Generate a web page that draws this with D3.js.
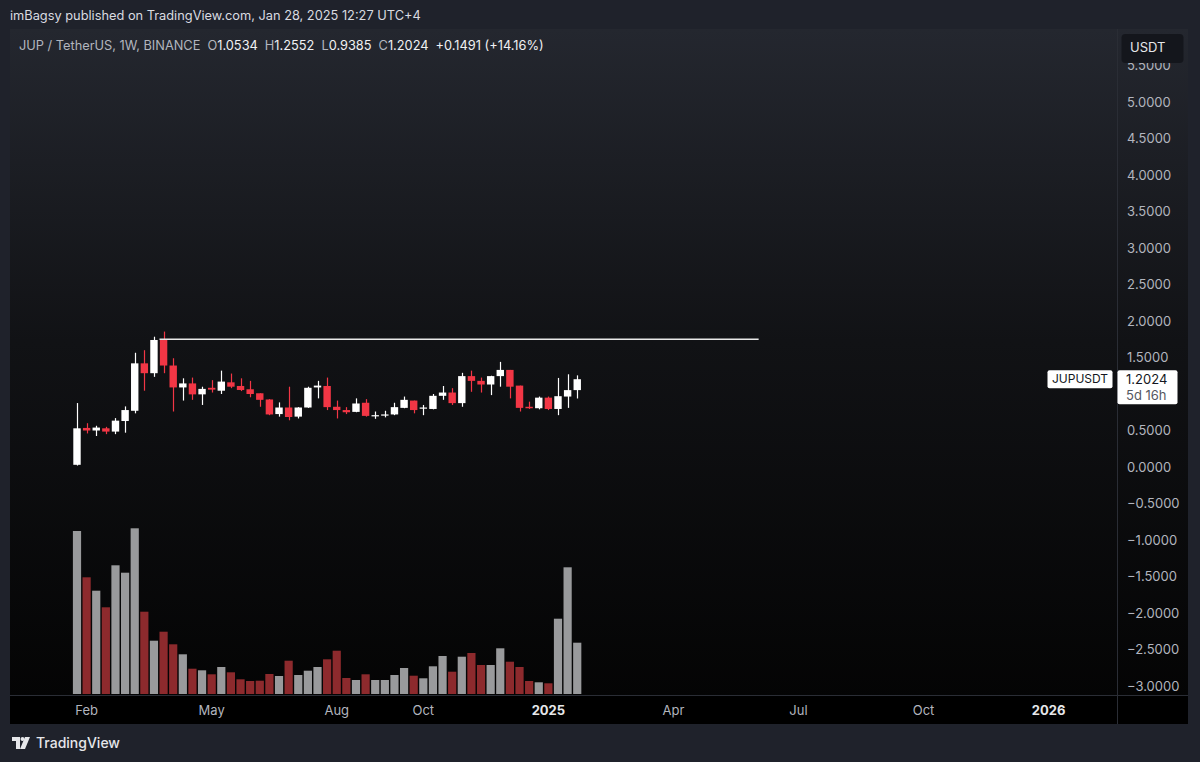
<!DOCTYPE html>
<html><head><meta charset="utf-8">
<script src="https://cdn.jsdelivr.net/npm/d3@7"></script>
<style>
html,body{margin:0;padding:0;background:#1f222b;}
svg{display:block;font-family:Inter,"Noto Sans",sans-serif;}
</style></head>
<body>
<svg id="c" width="1200" height="762"></svg>
<script>
// ---- data ----
const weeks = ["2024-01-29","2024-02-05","2024-02-12","2024-02-19","2024-02-26","2024-03-04","2024-03-11","2024-03-18","2024-03-25",
"2024-04-01","2024-04-08","2024-04-15","2024-04-22","2024-04-29","2024-05-06","2024-05-13","2024-05-20","2024-05-27",
"2024-06-03","2024-06-10","2024-06-17","2024-06-24","2024-07-01","2024-07-08","2024-07-15","2024-07-22","2024-07-29",
"2024-08-05","2024-08-12","2024-08-19","2024-08-26","2024-09-02","2024-09-09","2024-09-16","2024-09-23","2024-09-30",
"2024-10-07","2024-10-14","2024-10-21","2024-10-28","2024-11-04","2024-11-11","2024-11-18","2024-11-25",
"2024-12-02","2024-12-09","2024-12-16","2024-12-23","2024-12-30","2025-01-06","2025-01-13","2025-01-20","2025-01-27"];
const open  = [0.03,0.535,0.50,0.53,0.485,0.63,0.77,1.42,1.285,1.74,1.39,1.09,1.145,0.995,1.085,1.045,1.16,1.11,1.065,1.01,0.925,0.725,0.815,0.69,0.815,1.09,1.11,0.825,0.78,0.755,0.88,0.70,0.705,0.72,0.81,0.91,0.80,0.795,0.975,1.02,0.875,1.245,1.18,1.13,1.245,1.33,1.115,0.825,0.805,0.95,0.795,0.965,1.0534];
const high  = [0.876,0.60,0.565,0.55,0.67,0.83,1.565,1.60,1.785,1.855,1.49,1.215,1.225,1.10,1.19,1.32,1.28,1.215,1.18,1.01,0.93,0.885,1.10,0.82,1.10,1.18,1.225,0.91,0.82,0.94,0.93,0.76,0.77,0.88,0.965,0.91,0.85,1.00,1.11,1.08,1.29,1.32,1.225,1.25,1.44,1.33,1.115,0.895,0.965,0.965,1.22,1.27,1.2552];
const low   = [0.02,0.46,0.425,0.45,0.45,0.47,0.735,1.045,1.235,1.285,0.76,0.91,0.92,0.85,1.02,1.00,1.08,1.04,0.955,0.825,0.71,0.69,0.64,0.665,0.81,0.94,0.78,0.665,0.725,0.75,0.69,0.66,0.68,0.71,0.805,0.735,0.71,0.79,0.92,0.85,0.825,1.03,1.02,0.985,1.10,0.94,0.76,0.795,0.79,0.78,0.71,0.81,0.9385];
const close = [0.53,0.50,0.54,0.485,0.635,0.78,1.42,1.285,1.74,1.39,1.09,1.145,0.995,1.07,1.06,1.17,1.10,1.055,1.00,0.92,0.72,0.815,0.685,0.815,1.085,1.115,0.82,0.78,0.75,0.87,0.70,0.71,0.72,0.82,0.92,0.78,0.815,0.975,1.02,0.875,1.245,1.18,1.13,1.245,1.33,1.10,0.81,0.805,0.95,0.795,0.97,1.0533,1.2024];
const volume = [163,116.7,103.3,86.7,128.7,121.3,165.7,82.3,53.3,62.3,49.7,39.7,25.3,23.7,19.7,27,21.7,14.7,13,13.3,20,18,33.3,19,23.3,27,34.7,43.3,16,14,19.7,14,14,19,26,18.3,15.7,27.7,38,22.3,37.3,41,29,29,45.7,32.3,27,13,11.7,10.7,75.3,126.7,51.3];
const priceTicks = [-3,-2.5,-2,-1.5,-1,-0.5,0,0.5,1,1.5,2,2.5,3,3.5,4,4.5,5,5.5];
const timeTickDates  = ["2024-02-05","2024-05-06","2024-08-05","2024-10-07","2025-01-06","2025-04-07","2025-07-07","2025-10-06","2026-01-05"];
const timeTickLabels = ["Feb","May","Aug","Oct","2025","Apr","Jul","Oct","2026"];
const hLine = {from:"2024-03-29", to:"2025-06-08", price:1.75};
const lastPrice = 1.2024;

// ---- setup ----
const parse = d3.utcParse("%Y-%m-%d");
const svg = d3.select("#c");
const W=1200,H=762;
const panel={x:10,y:29,r:1188,b:724};
const axisX=1117, timeTop=695;

const defs=svg.append("defs");
const g1=defs.append("linearGradient").attr("id","bg").attr("x1",0).attr("y1",0).attr("x2",0).attr("y2",1);
g1.append("stop").attr("offset","0%").attr("stop-color","#24272f");
g1.append("stop").attr("offset","45%").attr("stop-color","#111215");
g1.append("stop").attr("offset","100%").attr("stop-color","#030303");

svg.append("rect").attr("width",W).attr("height",H).attr("fill","#1f222b");
svg.append("rect").attr("x",panel.x).attr("y",panel.y).attr("width",panel.r-panel.x).attr("height",panel.b-panel.y).attr("fill","url(#bg)");
svg.append("rect").attr("x",panel.x).attr("y",timeTop).attr("width",panel.r-panel.x).attr("height",panel.b-timeTop).attr("fill","#000");
svg.append("line").attr("x1",panel.x).attr("x2",panel.r).attr("y1",timeTop+0.5).attr("y2",timeTop+0.5).attr("stroke","#2a2d35");
svg.append("line").attr("x1",axisX+0.5).attr("x2",axisX+0.5).attr("y1",panel.y).attr("y2",panel.b).attr("stroke","#2a2d35");

// scales
const x = d3.scaleUtc().domain([parse("2024-01-29"),parse("2026-01-05")]).range([77,77+101*9.62]);
const y = d3.scaleLinear().domain([0,1]).range([467,394]);
const yv = d3.scaleLinear().domain([0,170]).range([694,524]);

const data = weeks.map((w,i)=>({d:parse(w),o:open[i],h:high[i],l:low[i],c:close[i],v:volume[i]}));
const up = d=>d.c>=d.o;

defs.append("clipPath").attr("id","clip").append("rect").attr("x",panel.x).attr("y",panel.y).attr("width",axisX-panel.x).attr("height",timeTop-panel.y);
const plot = svg.append("g").attr("clip-path","url(#clip)");

// volume
const vw=8.2;
plot.selectAll("rect.vol").data(data).join("rect").attr("class","vol")
  .attr("x",d=>x(d.d)-vw/2).attr("width",vw)
  .attr("y",d=>yv(d.v)).attr("height",d=>yv(0)-yv(d.v))
  .attr("fill",d=>up(d)?"#999a9c":"#8d2a2d");

// candles
const cw=7.4;
plot.selectAll("line.wick").data(data).join("line").attr("class","wick")
  .attr("x1",d=>Math.round(x(d.d))+0.5).attr("x2",d=>Math.round(x(d.d))+0.5)
  .attr("y1",d=>y(d.h)).attr("y2",d=>y(d.l))
  .attr("stroke",d=>up(d)?"#ffffff":"#f23645").attr("stroke-width",1.2);
plot.selectAll("rect.body").data(data).join("rect").attr("class","body")
  .attr("x",d=>x(d.d)-cw/2).attr("width",cw)
  .attr("y",d=>y(Math.max(d.o,d.c))).attr("height",d=>Math.max(1.2,Math.abs(y(d.o)-y(d.c))))
  .attr("fill",d=>up(d)?"#ffffff":"#f23645");

// horizontal drawing line
plot.append("line").attr("x1",x(parse(hLine.from))).attr("x2",x(parse(hLine.to)))
  .attr("y1",y(hLine.price)).attr("y2",y(hLine.price)).attr("stroke","#e8e8e8").attr("stroke-width",1.5);

// price axis
const fmt = v => (v<0?"\u2212":"")+Math.abs(v).toFixed(4);
const ya = svg.append("g");
ya.selectAll("text").data(priceTicks).join("text")
  .attr("x",1127).attr("y",d=>y(d)).attr("dy","0.35em")
  .attr("font-size",13).attr("fill","#b2b5be").text(fmt);

// USDT box
svg.append("rect").attr("x",1121.5).attr("y",34).attr("width",62).attr("height",29).attr("rx",4).attr("fill","#14161c");
svg.append("text").attr("x",1130).attr("y",47).attr("dy","0.35em").attr("font-size",13).attr("fill","#e6e7ea").text("USDT");

// time axis
const xa = svg.append("g");
xa.selectAll("text").data(timeTickDates).join("text")
  .attr("x",d=>x(parse(d))).attr("y",710).attr("dy","0.35em").attr("text-anchor","middle")
  .attr("font-size",13)
  .attr("font-weight",(d,i)=>/^\d{4}$/.test(timeTickLabels[i])?"700":"400")
  .attr("fill",(d,i)=>/^\d{4}$/.test(timeTickLabels[i])?"#e6e7ea":"#b2b5be")
  .text((d,i)=>timeTickLabels[i]);

// last price labels
const ly=y(lastPrice);
svg.append("rect").attr("x",1047.5).attr("y",ly-9).attr("width",65).attr("height",18).attr("rx",2).attr("fill","#ffffff");
svg.append("text").attr("x",1080).attr("y",ly).attr("dy","0.35em").attr("text-anchor","middle").attr("font-size",12).attr("fill","#131722").text("JUPUSDT");
svg.append("rect").attr("x",1117.5).attr("y",ly-9).attr("width",60).attr("height",34).attr("rx",2).attr("fill","#ffffff");
svg.append("text").attr("x",1126).attr("y",ly).attr("dy","0.35em").attr("font-size",13).attr("fill","#131722").text(lastPrice.toFixed(4));
svg.append("text").attr("x",1126).attr("y",ly+16).attr("dy","0.35em").attr("font-size",13).attr("fill","#55585f").text("5d 16h");

// header
svg.append("text").attr("x",10).attr("y",16).attr("dy","0.35em").attr("font-size",12.8).attr("fill","#d9dbe0")
  .text("imBagsy published on TradingView.com, Jan 28, 2025 12:27 UTC+4");
const last=data[data.length-1], prev=data[data.length-2];
const chg=last.c-prev.c;
const leg=svg.append("text").attr("x",19).attr("y",46).attr("dy","0.35em").attr("font-size",12.8).attr("fill","#b2b5be");
leg.append("tspan").text("JUP / TetherUS, 1W, BINANCE");
[["O",last.o],["H",last.h],["L",last.l],["C",last.c]].forEach(([k,v])=>{
  leg.append("tspan").attr("dx",7).attr("fill","#b2b5be").text(k);
  leg.append("tspan").attr("fill","#f0f1f3").text(v.toFixed(4));
});
leg.append("tspan").attr("dx",7).attr("fill","#f0f1f3").text("+"+chg.toFixed(4)+" (+"+(chg/prev.c*100).toFixed(2)+"%)");

// footer logo
const logo=svg.append("g").attr("transform","translate(12,737)").attr("fill","#e6e7ea");
logo.append("path").attr("d","M0 0 H8 V12 H4 V4 H0 Z");
logo.append("circle").attr("cx",10.5).attr("cy",2).attr("r",2);
logo.append("path").attr("d","M13 0 H18 L13 12 H8 Z");
svg.append("text").attr("x",36).attr("y",743.5).attr("dy","0.35em").attr("font-size",14).attr("font-weight",500).attr("fill","#e6e7ea").text("TradingView");
</script>
</body></html>
